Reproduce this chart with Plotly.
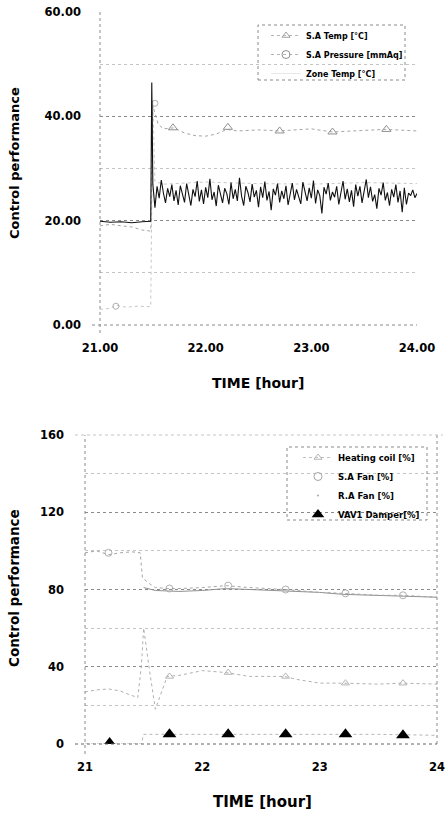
import numpy as np
import plotly.graph_objects as go

W, H = 446, 814

# ---------------- TOP CHART DATA ----------------
top_x_ticks = [21.0, 22.0, 23.0, 24.0]
top_y_ticks = [0, 20, 40, 60]

sa_temp_t = [21.0, 21.1, 21.2, 21.3, 21.4, 21.48, 21.5, 21.55, 21.6, 21.7, 21.8, 21.9,
             22.0, 22.1, 22.2, 22.3, 22.5, 22.7, 23.0, 23.2, 23.5, 23.7, 24.0]
sa_temp_v = [19.0, 19.3, 19.0, 18.8, 18.2, 18.0, 42.0, 38.5, 37.6, 37.8, 36.8, 36.3,
             36.2, 36.6, 37.5, 37.2, 37.4, 37.2, 37.6, 37.0, 37.3, 37.5, 37.2]
sa_temp_mk_t = [21.69, 22.21, 22.70, 23.20, 23.71]
sa_temp_mk_v = [37.8, 37.9, 37.2, 37.0, 37.5]

sa_pres_t = [21.0, 21.1, 21.15, 21.25, 21.35, 21.48, 21.5, 21.52, 21.6, 21.8, 22.0, 22.5, 23.0, 23.5, 24.0]
sa_pres_v = [3.0, 3.2, 3.8, 3.4, 3.6, 3.5, 43.0, 27.5, 27.0, 27.2, 27.4, 27.1, 27.0, 27.3, 27.1]
sa_pres_mk_t = [21.15, 21.52]
sa_pres_mk_v = [3.6, 42.5]

zone_pre_t = [21.0, 21.1, 21.2, 21.3, 21.4, 21.48, 21.49, 21.495]
zone_pre_v = [19.9, 19.7, 19.8, 19.6, 19.8, 19.9, 46.5, 31.5]
zone_start, zone_step = 21.50, 0.02
zone_after_v = [
    27.0, 22.5, 26.6, 24.3, 27.8, 25.3, 23.4, 26.2, 24.6, 26.9,
    23.8, 25.8, 23.0, 26.7, 24.8, 23.5, 27.1, 25.1, 22.9, 26.0,
    24.6, 27.6, 23.7, 25.9, 23.2, 26.4, 24.4, 28.0, 24.0, 25.5,
    22.8, 26.8, 24.9, 23.4, 26.2, 25.2, 23.1, 27.3, 24.2, 26.0,
    23.8, 28.2, 24.7, 22.9, 26.6, 25.4, 23.6, 27.0, 24.5, 25.8,
    22.6, 26.5, 24.4, 27.5, 23.9, 25.6, 22.0, 26.1, 24.9, 27.1,
    23.5, 25.7, 24.2, 26.7, 23.0, 25.0, 27.2, 24.0, 26.0, 24.6,
    23.2, 27.4, 25.3, 23.8, 26.3, 24.3, 27.7, 23.3, 25.9, 24.8,
    21.4, 26.4, 25.1, 27.2, 23.9, 25.5, 24.5, 26.6, 23.1, 25.2,
    27.6, 24.1, 26.1, 23.6, 25.8, 22.7, 26.9, 24.7, 26.6, 23.4,
    25.6, 27.9, 24.4, 26.5, 23.7, 25.0, 22.3, 26.2, 24.9, 27.3,
    23.9, 25.4, 22.9, 26.0, 24.5, 26.9, 23.5, 25.7, 21.6, 26.3,
    23.1, 25.3, 24.8, 25.9, 24.4, 25.2,
]

# ---------------- BOTTOM CHART DATA ----------------
bot_x_ticks = [21, 22, 23, 24]
bot_y_ticks = [0, 40, 80, 120, 160]

heat_t = [21.0, 21.1, 21.2, 21.3, 21.36, 21.45, 21.48, 21.5, 21.55, 21.6, 21.7, 21.8,
          22.0, 22.2, 22.4, 22.7, 22.8, 23.0, 23.2, 23.5, 23.7, 24.0]
heat_v = [27.0, 28.0, 28.5, 27.5, 26.0, 24.0, 40.0, 60.0, 38.0, 18.0, 35.0, 35.5,
          38.0, 37.0, 35.0, 35.0, 33.5, 31.5, 31.5, 31.0, 31.5, 31.0]
heat_mk_t = [21.72, 22.22, 22.71, 23.22, 23.71]
heat_mk_v = [35.0, 37.0, 35.0, 31.5, 31.5]

safan_t = [21.0, 21.1, 21.2, 21.3, 21.4, 21.47, 21.49, 21.55, 21.6, 21.7, 21.8, 22.0,
           22.2, 22.4, 22.7, 23.0, 23.2, 23.5, 23.7, 24.0]
safan_v = [99.0, 100.0, 98.0, 99.0, 99.5, 99.0, 86.0, 83.0, 81.0, 80.5, 80.5, 81.0,
           82.0, 81.0, 80.0, 78.5, 78.0, 77.0, 77.0, 76.0]
safan_mk_t = [21.2, 21.72, 22.22, 22.71, 23.22, 23.71]
safan_mk_v = [99.0, 80.5, 82.0, 80.0, 78.0, 77.0]

rafan_t = [21.5, 21.6, 21.8, 22.0, 22.2, 22.4, 22.7, 23.0, 23.2, 23.5, 23.7, 24.0]
rafan_v = [81.0, 79.5, 79.0, 79.5, 80.5, 80.0, 79.0, 78.5, 77.5, 77.0, 76.5, 76.0]

damper_t = [21.0, 21.48, 21.5, 22.0, 22.5, 23.0, 23.5, 24.0]
damper_v = [0.0, 0.0, 5.0, 5.0, 5.0, 5.0, 5.0, 4.5]
damper_mk_t = [21.21, 21.72, 22.22, 22.71, 23.22, 23.71]
damper_mk_v = [0.5, 5.0, 5.0, 5.0, 5.0, 4.5]

# ---------------- helpers ----------------
def px(x):
    return x / W

def py(y):
    return 1 - y / H

FONT = "DejaVu Sans"
FAINT = "#a5a5a5"
GRID = "#8a8a8a"
MINOR = "#c4c4c4"

zone_t = list(zone_pre_t) + [round(zone_start + i * zone_step, 2) for i in range(len(zone_after_v))]
zone_v = list(zone_pre_v) + list(zone_after_v)

fig = go.Figure()

# top traces
fig.add_trace(go.Scatter(x=sa_pres_t, y=sa_pres_v, mode="lines", line=dict(color="#c8c8c8", width=1, dash="dot"),
                         xaxis="x", yaxis="y", showlegend=False))
fig.add_trace(go.Scatter(x=sa_pres_mk_t, y=sa_pres_mk_v, mode="markers",
                         marker=dict(symbol="circle-open", size=6, color="#b0b0b0", line=dict(width=1)),
                         xaxis="x", yaxis="y", showlegend=False))
fig.add_trace(go.Scatter(x=sa_temp_t, y=sa_temp_v, mode="lines", line=dict(color=FAINT, width=1, dash="dot"),
                         xaxis="x", yaxis="y", showlegend=False))
fig.add_trace(go.Scatter(x=sa_temp_mk_t, y=sa_temp_mk_v, mode="markers",
                         marker=dict(symbol="triangle-up-open", size=8, color="#909090", line=dict(width=1)),
                         xaxis="x", yaxis="y", showlegend=False))
fig.add_trace(go.Scatter(x=zone_t, y=zone_v, mode="lines", line=dict(color="#111111", width=1.1),
                         xaxis="x", yaxis="y", showlegend=False))

# top legend dummies
fig.add_trace(go.Scatter(x=[None], y=[None], mode="lines+markers", name="S.A Temp [°C]",
                         line=dict(color="#b5b5b5", width=1, dash="dot"),
                         marker=dict(symbol="triangle-up-open", size=7, color="#a0a0a0"),
                         xaxis="x", yaxis="y", legend="legend"))
fig.add_trace(go.Scatter(x=[None], y=[None], mode="lines+markers", name="S.A Pressure [mmAq]",
                         line=dict(color="#b5b5b5", width=1, dash="dot"),
                         marker=dict(symbol="circle-open", size=8, color="#909090"),
                         xaxis="x", yaxis="y", legend="legend"))
fig.add_trace(go.Scatter(x=[None], y=[None], mode="lines", name="Zone Temp [°C]",
                         line=dict(color="#e8e8e8", width=1),
                         xaxis="x", yaxis="y", legend="legend"))

# bottom traces
fig.add_trace(go.Scatter(x=rafan_t, y=rafan_v, mode="lines", line=dict(color="#909090", width=1),
                         xaxis="x2", yaxis="y2", showlegend=False))
fig.add_trace(go.Scatter(x=safan_t, y=safan_v, mode="lines", line=dict(color=FAINT, width=1, dash="dot"),
                         xaxis="x2", yaxis="y2", showlegend=False))
fig.add_trace(go.Scatter(x=safan_mk_t, y=safan_mk_v, mode="markers",
                         marker=dict(symbol="circle-open", size=7, color="#b0b0b0", line=dict(width=1)),
                         xaxis="x2", yaxis="y2", showlegend=False))
fig.add_trace(go.Scatter(x=heat_t, y=heat_v, mode="lines", line=dict(color="#b0b0b0", width=1, dash="dot"),
                         xaxis="x2", yaxis="y2", showlegend=False))
fig.add_trace(go.Scatter(x=heat_mk_t, y=heat_mk_v, mode="markers",
                         marker=dict(symbol="triangle-up-open", size=7, color="#b5b5b5", line=dict(width=1)),
                         xaxis="x2", yaxis="y2", showlegend=False))
fig.add_trace(go.Scatter(x=damper_t, y=damper_v, mode="lines", line=dict(color="#b5b5b5", width=1, dash="dot"),
                         xaxis="x2", yaxis="y2", showlegend=False))
fig.add_trace(go.Scatter(x=damper_mk_t, y=damper_mk_v, mode="markers",
                         marker=dict(symbol="triangle-up", size=12, color="black"),
                         xaxis="x2", yaxis="y2", showlegend=False))

# bottom legend dummies
fig.add_trace(go.Scatter(x=[None], y=[None], mode="lines+markers", name="Heating coil [%]",
                         line=dict(color="#c0c0c0", width=1, dash="dot"),
                         marker=dict(symbol="triangle-up-open", size=7, color="#b5b5b5"),
                         xaxis="x2", yaxis="y2", legend="legend2"))
fig.add_trace(go.Scatter(x=[None], y=[None], mode="markers", name="S.A Fan [%]",
                         marker=dict(symbol="circle-open", size=8, color="#a5a5a5"),
                         xaxis="x2", yaxis="y2", legend="legend2"))
fig.add_trace(go.Scatter(x=[None], y=[None], mode="markers", name="R.A Fan [%]",
                         marker=dict(symbol="circle", size=2, color="#a5a5a5"),
                         xaxis="x2", yaxis="y2", legend="legend2"))
fig.add_trace(go.Scatter(x=[None], y=[None], mode="markers", name="VAV1 Damper[%]",
                         marker=dict(symbol="triangle-up", size=11, color="black"),
                         xaxis="x2", yaxis="y2", legend="legend2"))

tickfont = dict(family=FONT, size=11.5, color="black", weight="bold")

# geometry (pixels)
t_x0, t_x1, t_y0, t_y1 = 100, 417, 12, 325
b_x0, b_x1, b_y0, b_y1 = 85, 437, 435, 744

common_y = dict(showline=False, zeroline=False, ticks="", tickfont=tickfont, automargin=False,
                showgrid=True, gridcolor=GRID, griddash="dot", gridwidth=1)
common_x = dict(showline=False, zeroline=False, ticks="", tickfont=tickfont, showgrid=False, automargin=False)

fig.update_layout(
    width=W, height=H, margin=dict(l=0, r=0, t=0, b=0, autoexpand=False),
    paper_bgcolor="white", plot_bgcolor="white",
    xaxis=dict(common_x, domain=[px(t_x0), px(t_x1)], range=[21, 24], tickvals=top_x_ticks,
               tickformat=".2f", anchor="y", ticklabelstandoff=14),
    yaxis=dict(common_y, domain=[py(t_y1), py(t_y0)], range=[0, 60], tickvals=top_y_ticks,
               tickformat=".2f", anchor="x", ticklabelstandoff=18,
               minor=dict(tickvals=[10, 30, 50], showgrid=True, gridcolor=MINOR, griddash="dot")),
    xaxis2=dict(common_x, domain=[px(b_x0), px(b_x1)], range=[21, 24], tickvals=bot_x_ticks,
                anchor="y2", ticklabelstandoff=14),
    yaxis2=dict(common_y, domain=[py(b_y1), py(b_y0)], range=[0, 160], tickvals=bot_y_ticks,
                anchor="x2", ticklabelstandoff=20,
                minor=dict(tickvals=[20, 60, 100, 140], showgrid=True, gridcolor=MINOR, griddash="dot")),
    legend=dict(x=px(266), y=py(21), xanchor="left", yanchor="top", bgcolor="rgba(0,0,0,0)",
                borderwidth=0, font=dict(family=FONT, size=8, color="black", weight="bold"),
                itemwidth=30, tracegroupgap=0),
    legend2=dict(x=px(298), y=py(443), xanchor="left", yanchor="top", bgcolor="rgba(0,0,0,0)",
                 borderwidth=0, font=dict(family=FONT, size=8.5, color="black", weight="bold"),
                 itemwidth=30, tracegroupgap=0),
    showlegend=True,
)

shapes = []
# dotted axis lines
shapes.append(dict(type="line", xref="paper", yref="paper", x0=px(t_x0), x1=px(t_x0), y0=py(t_y1 + 8), y1=py(t_y0),
                   line=dict(color=GRID, width=1, dash="dot")))
shapes.append(dict(type="line", xref="paper", yref="paper", x0=px(t_x0 - 8), x1=px(t_x1), y0=py(t_y1), y1=py(t_y1),
                   line=dict(color=GRID, width=1, dash="dot")))
shapes.append(dict(type="line", xref="paper", yref="paper", x0=px(b_x0), x1=px(b_x0), y0=py(b_y1 + 10), y1=py(b_y0),
                   line=dict(color=GRID, width=1, dash="dot")))
shapes.append(dict(type="line", xref="paper", yref="paper", x0=px(b_x1), x1=px(b_x1), y0=py(b_y1), y1=py(b_y0),
                   line=dict(color=GRID, width=1, dash="dot")))
shapes.append(dict(type="line", xref="paper", yref="paper", x0=px(b_x0 - 10), x1=px(b_x1), y0=py(b_y1), y1=py(b_y1),
                   line=dict(color="#666666", width=1, dash="dot")))
shapes.append(dict(type="line", xref="paper", yref="paper", x0=px(b_x0 - 10), x1=px(b_x1 + 6), y0=py(b_y0), y1=py(b_y0),
                   line=dict(color=MINOR, width=1, dash="dot")))
# legend boxes (dotted)
shapes.append(dict(type="rect", xref="paper", yref="paper", x0=px(258), x1=px(405), y0=py(80), y1=py(25),
                   line=dict(color="#8a8a8a", width=1, dash="dot")))
shapes.append(dict(type="rect", xref="paper", yref="paper", x0=px(287), x1=px(427), y0=py(520), y1=py(447),
                   line=dict(color="#8a8a8a", width=1, dash="dot")))
fig.update_layout(shapes=shapes)

ann_font = dict(family=FONT, color="black", weight="bold")
fig.update_layout(annotations=[
    dict(text="TIME [hour]", xref="paper", yref="paper", x=px(258), y=py(383), showarrow=False,
         xanchor="center", yanchor="middle", font=dict(ann_font, size=14)),
    dict(text="TIME [hour]", xref="paper", yref="paper", x=px(262), y=py(802), showarrow=False,
         xanchor="center", yanchor="middle", font=dict(ann_font, size=15)),
    dict(text="Control performance", xref="paper", yref="paper", x=px(15), y=py(163), showarrow=False,
         textangle=-90, xanchor="center", yanchor="middle", font=dict(ann_font, size=13)),
    dict(text="Control performance", xref="paper", yref="paper", x=px(14), y=py(588), showarrow=False,
         textangle=-90, xanchor="center", yanchor="middle", font=dict(ann_font, size=13.5)),
])

fig.write_html("out.html", config={"displayModeBar": False},
               post_script="document.body.style.margin='0';document.body.style.overflow='hidden';")
